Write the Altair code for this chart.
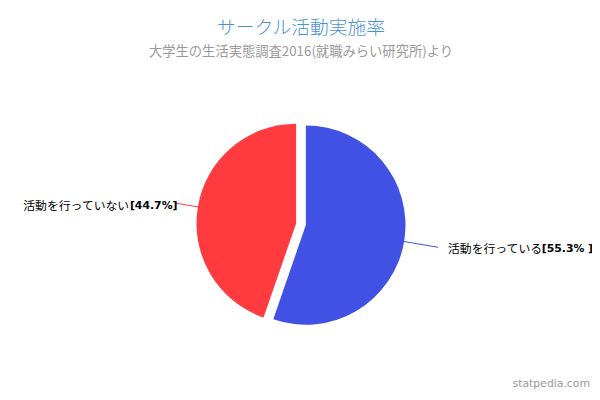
import math
import altair as alt
import pandas as pd

categories = ["活動を行っている", "活動を行っていない"]
values = [55.3, 44.7]
pct_labels = ["[55.3% ]", "[44.7%]"]
colors = ["#4151E3", "#FF3B3F"]
order = [0, 1]

df = pd.DataFrame({"cat": categories, "value": values, "pct": pct_labels, "order": order})

CX, CY = 293, 146.5   # pie centre inside plot area
R = 101
EXPLODE = 5
TAU = 2 * math.pi
JP = "Noto Sans CJK JP"

theta_scale = alt.Scale(domain=[0, 100], range=[0, TAU])
color_scale = alt.Scale(domain=categories, range=colors)

base = alt.Chart(df).transform_window(
    end="sum(value)", sort=[alt.SortField("order")], frame=[None, 0]
).transform_calculate(
    start="datum.end - datum.value",
    mid="(datum.end - datum.value / 2) / 100 * 2 * PI",
)


def slice_layers(i, line_r, left_side, jp_w):
    b = base.transform_filter(alt.datum.order == i).transform_calculate(
        cx=f"{CX} + {EXPLODE} * sin(datum.mid)",
        cy=f"{CY} - {EXPLODE} * cos(datum.mid)",
    ).transform_calculate(
        lx1=f"datum.cx + {R - 1} * sin(datum.mid)",
        ly1=f"datum.cy - {R - 1} * cos(datum.mid)",
        lx2=f"datum.cx + {line_r} * sin(datum.mid)",
        ly2=f"datum.cy - {line_r} * cos(datum.mid)",
    )
    arc = b.mark_arc(outerRadius=R).encode(
        theta=alt.Theta("start:Q", scale=theta_scale, stack=False),
        theta2="end:Q",
        color=alt.Color("cat:N", scale=color_scale, legend=None),
        x=alt.X("cx:Q", scale=None),
        y=alt.Y("cy:Q", scale=None),
    )
    line = b.mark_rule(strokeWidth=1).encode(
        x=alt.X("lx1:Q", scale=None),
        y=alt.Y("ly1:Q", scale=None),
        x2="lx2:Q",
        y2="ly2:Q",
        color=alt.Color("cat:N", scale=color_scale, legend=None),
    )
    if left_side:
        jp = b.mark_text(align="right", baseline="middle", dx=-47, dy=3,
                         font=JP, fontSize=12, color="#000000")
        pc = b.mark_text(align="right", baseline="middle", dx=2, dy=3,
                         font="DejaVu Sans", fontSize=11, fontWeight="bold", color="#000000")
    else:
        jp = b.mark_text(align="left", baseline="middle", dx=10, dy=2,
                         font=JP, fontSize=12, color="#000000")
        pc = b.mark_text(align="left", baseline="middle", dx=10 + jp_w, dy=2,
                         font="DejaVu Sans", fontSize=11, fontWeight="bold", color="#000000")
    enc = dict(x=alt.X("lx2:Q", scale=None), y=alt.Y("ly2:Q", scale=None))
    jp = jp.encode(text="cat:N", **enc)
    pc = pc.encode(text="pct:N", **enc)
    return [arc, line, jp, pc]


layers = slice_layers(0, 136, False, 95) + slice_layers(1, 124, True, 0)

wm = alt.Chart(pd.DataFrame({"t": ["statpedia.com"]})).mark_text(
    align="right", baseline="middle", font="DejaVu Sans", fontSize=11, color="#999999"
).encode(x=alt.value(586), y=alt.value(309), text="t:N")

chart = alt.layer(*layers, wm).properties(
    width=586,
    height=291,
    autosize=alt.AutoSizeParams(type="none"),
    padding={"left": 4, "top": 70, "right": 2, "bottom": 31},
    title=alt.TitleParams(
        text="サークル活動実施率",
        subtitle="大学生の生活実態調査2016(就職みらい研究所)より",
        anchor="middle",
        font=JP,
        fontSize=19,
        fontWeight=300,
        color="#4a92d6",
        subtitleFont=JP,
        subtitleFontSize=13.5,
        subtitleColor="#9a9a9a",
        offset=22,
        subtitlePadding=7,
    ),
).configure_view(stroke=None)

chart.save("out.html", embed_options={"renderer": "svg", "actions": False})
